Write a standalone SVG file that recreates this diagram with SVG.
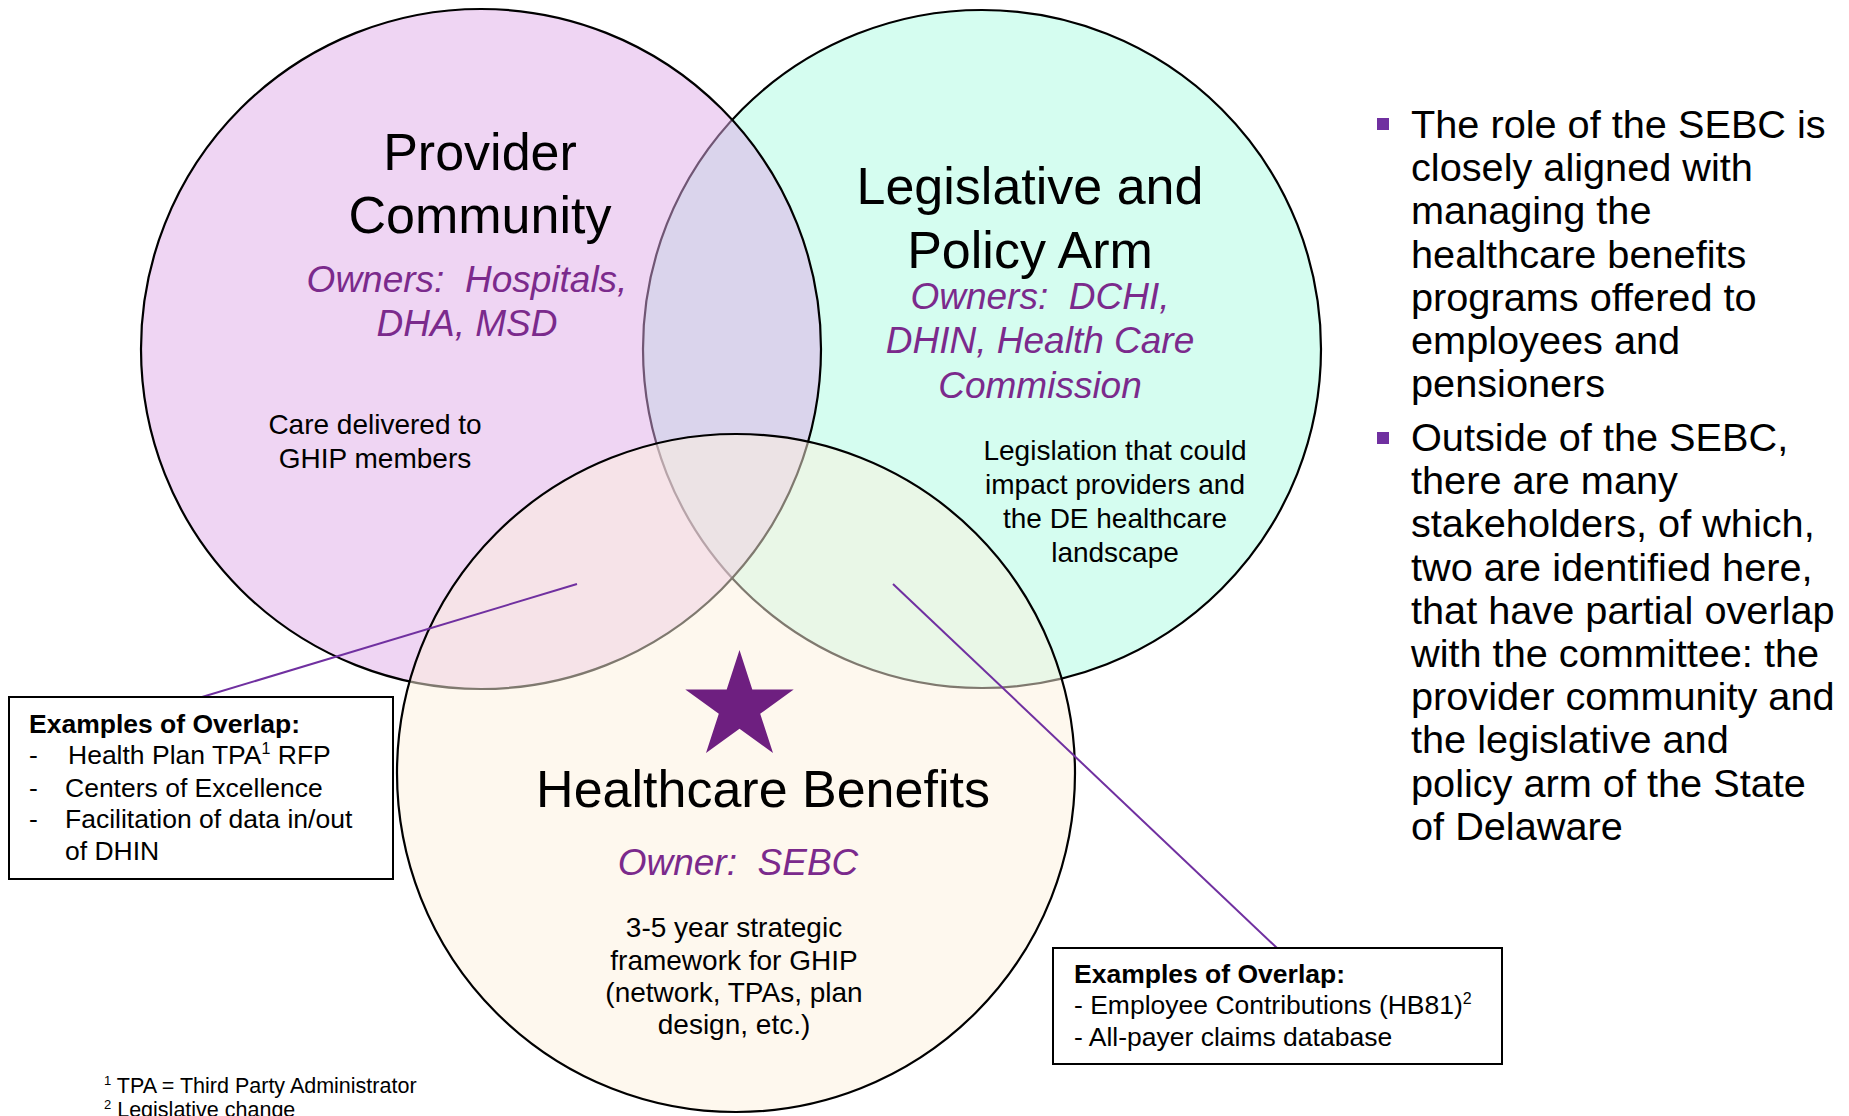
<svg xmlns="http://www.w3.org/2000/svg" width="1849" height="1116" viewBox="0 0 1849 1116">
<style>
.c{stroke:#000;stroke-width:2.2;fill-opacity:0.5}
.t{font-family:"Liberation Sans",Arial,sans-serif;fill:#000}
.title{font-size:52px;text-anchor:middle}
.own{font-size:37px;font-style:italic;fill:#7B2A8C;text-anchor:middle;white-space:pre}
.body{font-size:28px;text-anchor:middle}
.box{fill:#fff;stroke:#000;stroke-width:2}
.bx{font-size:26.5px}
.bold{font-weight:bold}
.bul{font-size:39.7px}
.sq{fill:#7030A0}
.fn{font-size:21.5px}
.conn{stroke:#7030A0;stroke-width:2;fill:none}
</style>
<rect width="1849" height="1116" fill="#fff"/>
<g id="legislative">
<circle class="c" cx="982" cy="349" r="339" fill="#ABFBE1"/>
<text class="t title" x="1030" y="204">Legislative and</text>
<text class="t title" x="1030" y="268">Policy Arm</text>
<text class="t own" x="1040" y="309" xml:space="preserve">Owners:  DCHI,</text>
<text class="t own" x="1040" y="353">DHIN, Health Care</text>
<text class="t own" x="1040" y="398">Commission</text>
<text class="t body" x="1115" y="460">Legislation that could</text>
<text class="t body" x="1115" y="494">impact providers and</text>
<text class="t body" x="1115" y="528">the DE healthcare</text>
<text class="t body" x="1115" y="562">landscape</text>
</g>
<g id="provider">
<circle class="c" cx="481" cy="349" r="340" fill="#DFABE7"/>
<text class="t title" x="480" y="170">Provider</text>
<text class="t title" x="480" y="233">Community</text>
<text class="t own" x="467" y="292" xml:space="preserve">Owners:  Hospitals,</text>
<text class="t own" x="467" y="336">DHA, MSD</text>
<text class="t body" x="375" y="434">Care delivered to</text>
<text class="t body" x="375" y="468">GHIP members</text>
</g>
<g id="benefits">
<circle class="c" cx="736" cy="773" r="339" fill="#FDF1DD"/>
<polygon fill="#6E1F80" points="739.5,650 752.3,689.4 793.7,689.4 760.2,713.7 773,753.1 739.5,728.8 706,753.1 718.8,713.7 685.3,689.4 726.7,689.4"/>
<text class="t title" x="763" y="807">Healthcare Benefits</text>
<text class="t own" x="738" y="875" xml:space="preserve">Owner:  SEBC</text>
<text class="t body" x="734" y="937">3-5 year strategic</text>
<text class="t body" x="734" y="970">framework for GHIP</text>
<text class="t body" x="734" y="1002">(network, TPAs, plan</text>
<text class="t body" x="734" y="1034">design, etc.)</text>
</g>
<g id="connectors">
<line class="conn" x1="577" y1="584" x2="202" y2="697"/>
<line class="conn" x1="893" y1="584" x2="1277" y2="948"/>
</g>
<g id="box-left">
<rect class="box" x="9" y="697" width="384" height="182"/>
<text class="t bx bold" x="29" y="733">Examples of Overlap:</text>
<text class="t bx" x="29" y="764">-</text>
<text class="t bx" x="68" y="764">Health Plan TPA<tspan font-size="16" dy="-10">1</tspan><tspan dy="10"> RFP</tspan></text>
<text class="t bx" x="29" y="797">-</text>
<text class="t bx" x="65" y="797">Centers of Excellence</text>
<text class="t bx" x="29" y="828">-</text>
<text class="t bx" x="65" y="828">Facilitation of data in/out</text>
<text class="t bx" x="65" y="860">of DHIN</text>
</g>
<g id="box-right">
<rect class="box" x="1053" y="948" width="449" height="116"/>
<text class="t bx bold" x="1074" y="983">Examples of Overlap:</text>
<text class="t bx" x="1074" y="1014">- Employee Contributions (HB81)<tspan font-size="16" dy="-10">2</tspan></text>
<text class="t bx" x="1074" y="1046">- All-payer claims database</text>
</g>
<g id="bullets">
<rect class="sq" x="1377" y="118" width="12" height="12"/>
<text class="t bul" x="1411" y="138">The role of the SEBC is</text>
<text class="t bul" x="1411" y="181.2">closely aligned with</text>
<text class="t bul" x="1411" y="224.4">managing the</text>
<text class="t bul" x="1411" y="267.6">healthcare benefits</text>
<text class="t bul" x="1411" y="310.8">programs offered to</text>
<text class="t bul" x="1411" y="354">employees and</text>
<text class="t bul" x="1411" y="397.2">pensioners</text>
<rect class="sq" x="1377" y="432" width="12" height="12"/>
<text class="t bul" x="1411" y="451">Outside of the SEBC,</text>
<text class="t bul" x="1411" y="494.2">there are many</text>
<text class="t bul" x="1411" y="537.4">stakeholders, of which,</text>
<text class="t bul" x="1411" y="580.6">two are identified here,</text>
<text class="t bul" x="1411" y="623.8">that have partial overlap</text>
<text class="t bul" x="1411" y="667">with the committee: the</text>
<text class="t bul" x="1411" y="710.2">provider community and</text>
<text class="t bul" x="1411" y="753.4">the legislative and</text>
<text class="t bul" x="1411" y="796.6">policy arm of the State</text>
<text class="t bul" x="1411" y="839.8">of Delaware</text>
</g>
<g id="footnotes">
<text class="t fn" x="104" y="1093"><tspan font-size="13" dy="-8">1</tspan><tspan dy="8"> TPA = Third Party Administrator</tspan></text>
<text class="t fn" x="104" y="1117"><tspan font-size="13" dy="-8">2</tspan><tspan dy="8"> Legislative change</tspan></text>
</g>
</svg>
